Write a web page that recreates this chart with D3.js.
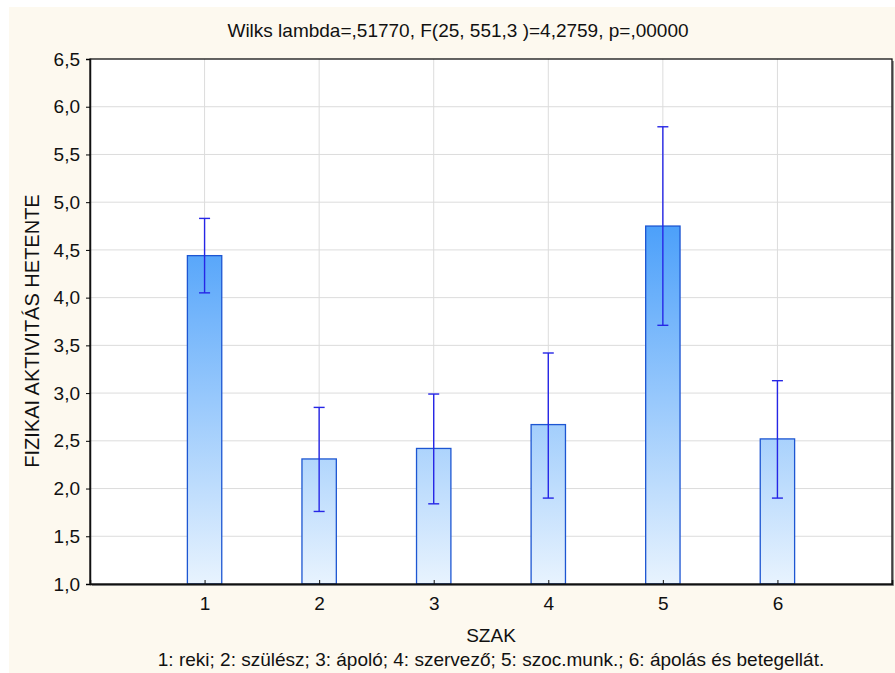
<!DOCTYPE html>
<html><head><meta charset="utf-8">
<script src="https://cdn.jsdelivr.net/npm/d3@7"></script>
<style>body{margin:0;background:#fff;}svg{display:block;font-family:"Liberation Sans",Arial,sans-serif;}</style>
</head><body>
<script>
const categories = [1, 2, 3, 4, 5, 6];
const means = [4.44, 2.31, 2.42, 2.67, 4.75, 2.52];
const upper = [4.83, 2.85, 2.99, 3.42, 5.79, 3.13];
const lower = [4.05, 1.76, 1.84, 1.90, 3.71, 1.90];
const yTicks = [1.0, 1.5, 2.0, 2.5, 3.0, 3.5, 4.0, 4.5, 5.0, 5.5, 6.0, 6.5];
const title = "Wilks lambda=,51770, F(25, 551,3 )=4,2759, p=,00000";
const xTitle = "SZAK";
const yTitle = "FIZIKAI AKTIVITÁS HETENTE";
const footnote = "1: reki; 2: szülész; 3: ápoló; 4: szervező; 5: szoc.munk.; 6: ápolás és betegellát.";

const W = 895, H = 673, FS = 19;
const L = 90, R = 892, T = 59, B = 584;
const svg = d3.select("body").append("svg").attr("width", W).attr("height", H);
svg.append("rect").attr("x", 9).attr("y", 7).attr("width", W - 9).attr("height", H - 7).attr("fill", "#fdf9ef");

const x = d3.scaleLinear().domain([0, 7]).range([L, R]);
const y = d3.scaleLinear().domain([1, 6.5]).range([B, T]);
const fmt = d => d.toFixed(1).replace(".", ",");

// shadow + plot background
svg.append("rect").attr("x", L + 2).attr("y", T + 2).attr("width", R - L).attr("height", B - T).attr("fill", "#9a9a9a");
svg.append("rect").attr("x", L).attr("y", T).attr("width", R - L).attr("height", B - T).attr("fill", "#fff");

const defs = svg.append("defs");
const grad = defs.append("linearGradient").attr("id", "g").attr("gradientUnits", "userSpaceOnUse")
  .attr("x1", 0).attr("x2", 0).attr("y1", y(1)).attr("y2", y(4.8));
grad.append("stop").attr("offset", "0").attr("stop-color", "#e8f3fe");
grad.append("stop").attr("offset", "1").attr("stop-color", "#4a9ffa");

// grid
svg.append("g").selectAll("line").data(yTicks.slice(1, -1)).join("line")
  .attr("x1", L).attr("x2", R).attr("y1", d => y(d)).attr("y2", d => y(d))
  .attr("stroke", "#dcdcdc").attr("stroke-width", 1);
svg.append("g").selectAll("line").data(categories).join("line")
  .attr("x1", d => x(d)).attr("x2", d => x(d)).attr("y1", T).attr("y2", B)
  .attr("stroke", "#dcdcdc").attr("stroke-width", 1);

// bars
const bw = x(0.3) - x(0);
svg.append("g").selectAll("rect").data(categories).join("rect")
  .attr("x", (d) => x(d) - bw / 2).attr("width", bw)
  .attr("y", (d, i) => y(means[i])).attr("height", (d, i) => y(1) - y(means[i]))
  .attr("fill", "url(#g)").attr("stroke", "#1d56d2").attr("stroke-width", 1.3);

// error bars
const eb = svg.append("g").attr("stroke", "#2626e6").attr("stroke-width", 1.4);
categories.forEach((c, i) => {
  eb.append("line").attr("x1", x(c)).attr("x2", x(c)).attr("y1", y(upper[i])).attr("y2", y(lower[i]));
  eb.append("line").attr("x1", x(c) - 5.5).attr("x2", x(c) + 5.5).attr("y1", y(upper[i])).attr("y2", y(upper[i]));
  eb.append("line").attr("x1", x(c) - 5.5).attr("x2", x(c) + 5.5).attr("y1", y(lower[i])).attr("y2", y(lower[i]));
});

// frame
svg.append("rect").attr("x", L).attr("y", T).attr("width", R - L).attr("height", B - T)
  .attr("fill", "none").attr("stroke", "#111").attr("stroke-width", 1.3);

// axes
const yAxis = svg.append("g").attr("transform", `translate(${L},0)`)
  .call(d3.axisLeft(y).tickValues(yTicks).tickFormat(fmt).tickSize(4).tickPadding(6));
yAxis.select(".domain").attr("stroke", "#111").attr("stroke-width", 1.5);
yAxis.selectAll("text").attr("font-size", FS).attr("fill", "#111").attr("font-family", "Liberation Sans, Arial, sans-serif");

const xAxis = svg.append("g").attr("transform", `translate(0,${B})`)
  .call(d3.axisBottom(x).tickValues(categories).tickFormat(d3.format("d")).tickSize(-4).tickPadding(13));
xAxis.select(".domain").attr("stroke", "#111").attr("stroke-width", 1.5);
xAxis.selectAll("line").attr("stroke", "#111");
xAxis.selectAll("text").attr("font-size", FS).attr("fill", "#111").attr("font-family", "Liberation Sans, Arial, sans-serif");

// texts
svg.append("text").attr("x", 458).attr("y", 37).attr("text-anchor", "middle").attr("font-size", FS).attr("fill", "#111").text(title);
svg.append("text").attr("x", (L + R) / 2).attr("y", 642).attr("text-anchor", "middle").attr("font-size", FS).attr("fill", "#111").text(xTitle);
svg.append("text").attr("x", (L + R) / 2).attr("y", 666).attr("text-anchor", "middle").attr("font-size", FS).attr("fill", "#111").text(footnote);
svg.append("text").attr("transform", `translate(39,331) rotate(-90)`).attr("text-anchor", "middle").attr("font-size", 20).attr("fill", "#111").text(yTitle);
</script>
</body></html>
